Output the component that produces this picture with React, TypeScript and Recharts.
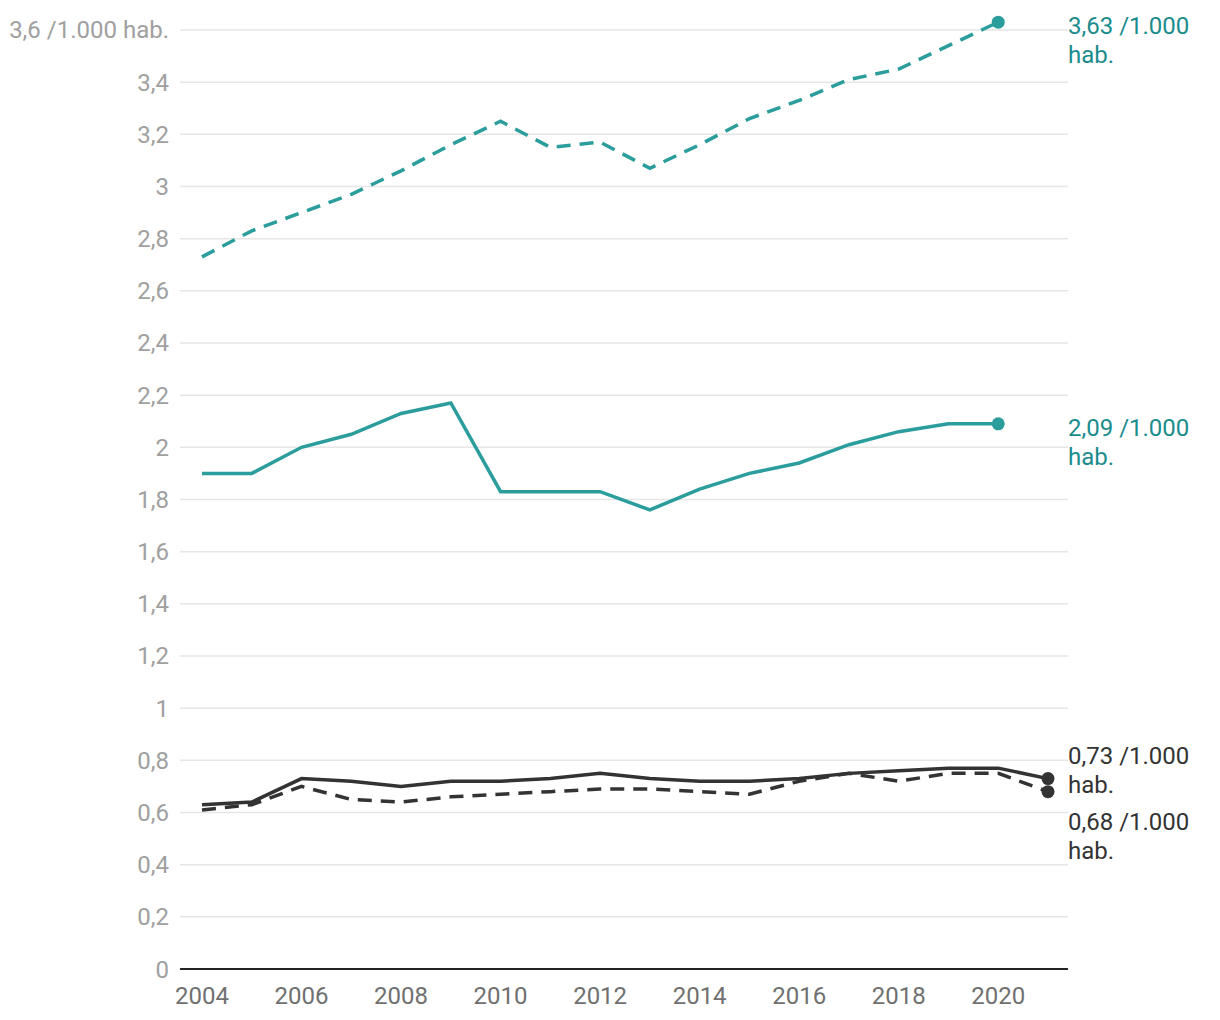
import { LineChart, Line, XAxis, YAxis, CartesianGrid, LabelList } from 'recharts';

const years = [2004, 2005, 2006, 2007, 2008, 2009, 2010, 2011, 2012, 2013, 2014, 2015, 2016, 2017, 2018, 2019, 2020, 2021];
const tealDashed = [2.73, 2.83, 2.9, 2.97, 3.06, 3.16, 3.25, 3.15, 3.17, 3.07, 3.16, 3.26, 3.33, 3.41, 3.45, 3.54, 3.63, null];
const tealSolid = [1.9, 1.9, 2.0, 2.05, 2.13, 2.17, 1.83, 1.83, 1.83, 1.76, 1.84, 1.9, 1.94, 2.01, 2.06, 2.09, 2.09, null];
const darkSolid = [0.63, 0.64, 0.73, 0.72, 0.7, 0.72, 0.72, 0.73, 0.75, 0.73, 0.72, 0.72, 0.73, 0.75, 0.76, 0.77, 0.77, 0.73];
const darkDashed = [0.61, 0.63, 0.7, 0.65, 0.64, 0.66, 0.67, 0.68, 0.69, 0.69, 0.68, 0.67, 0.72, 0.75, 0.72, 0.75, 0.75, 0.68];

const yTicks = [0, 0.2, 0.4, 0.6, 0.8, 1, 1.2, 1.4, 1.6, 1.8, 2, 2.2, 2.4, 2.6, 2.8, 3, 3.2, 3.4, 3.6];
const xTicks = [2004, 2006, 2008, 2010, 2012, 2014, 2016, 2018, 2020];

const TEAL = '#2a9d9c';
const TEAL_TEXT = '#1b8c8c';
const DARK = '#333333';
const WIDTH = 1220;
const HEIGHT = 1020;
// domain goes a bit past the last tick so the 3,63 point is not clipped
const Y_MAX = 3.7;
const MARGIN = { top: 3.9, right: 152, bottom: 11, left: 0 };
const PLOT_RIGHT = WIDTH - MARGIN.right;

const data = years.map((year, i) => ({
  year,
  tealDashed: tealDashed[i],
  tealSolid: tealSolid[i],
  darkSolid: darkSolid[i],
  darkDashed: darkDashed[i],
}));

const fmt = (v: number) => String(Math.round(v * 10) / 10).replace('.', ',');

const lastIndex = (arr: (number | null)[]) => {
  let idx = -1;
  arr.forEach((v, i) => { if (v !== null) idx = i; });
  return idx;
};

const endDot = (arr: (number | null)[], color: string) => (props: any) => {
  const { cx, cy, index } = props;
  if (index !== lastIndex(arr) || cy == null) return <g key={`d-${index}`} />;
  return <circle key={`d-${index}`} cx={cx} cy={cy} r={6.5} fill={color} />;
};

const endLabel = (arr: (number | null)[], color: string, shift: number) => (props: any) => {
  const { y, index, value } = props;
  if (index !== lastIndex(arr) || value == null) return null;
  const base = y + shift + 8.5;
  return (
    <text x={PLOT_RIGHT} y={base} fill={color} fontSize={24} textAnchor="start">
      <tspan x={PLOT_RIGHT} y={base}>{Number(value).toFixed(2).replace('.', ',')} /1.000</tspan>
      <tspan x={PLOT_RIGHT} y={base + 29}>hab.</tspan>
    </text>
  );
};

const YTick = (props: any) => {
  const { x, y, payload } = props;
  const label = payload.value === 3.6 ? '3,6 /1.000 hab.' : fmt(payload.value);
  return (
    <text x={x} y={y} dy={8.5} textAnchor="end" fill="#a0a0a0" fontSize={24}>
      {label}
    </text>
  );
};

export default function App() {
  return (
    <div style={{ position: 'absolute', left: 0, top: 0, background: '#fff' }}>
      <LineChart
        width={WIDTH}
        height={HEIGHT}
        data={data}
        margin={MARGIN}
        style={{ fontFamily: 'Roboto, sans-serif' }}
      >
        <CartesianGrid vertical={false} horizontalValues={yTicks} stroke="#e6e6e6" strokeWidth={1.5} />
        <XAxis
          dataKey="year"
          type="number"
          domain={[2004, 2021]}
          ticks={xTicks}
          padding={{ left: 22, right: 20 }}
          tickLine={false}
          axisLine={{ stroke: '#222', strokeWidth: 2 }}
          tick={{ fill: '#707070', fontSize: 24 }}
          tickMargin={11.5}
          height={40}
        />
        <YAxis
          domain={[0, Y_MAX]}
          ticks={yTicks}
          width={180}
          axisLine={false}
          tickLine={false}
          tickSize={0}
          tickMargin={11}
          tick={<YTick />}
          interval={0}
        />
        <Line
          dataKey="tealDashed"
          stroke={TEAL}
          strokeWidth={3.5}
          strokeDasharray="14 9"
          dot={endDot(tealDashed, TEAL)}
          activeDot={false}
          isAnimationActive={false}
        >
          <LabelList dataKey="tealDashed" content={endLabel(tealDashed, TEAL_TEXT, 3)} />
        </Line>
        <Line
          dataKey="tealSolid"
          stroke={TEAL}
          strokeWidth={3.5}
          dot={endDot(tealSolid, TEAL)}
          activeDot={false}
          isAnimationActive={false}
        >
          <LabelList dataKey="tealSolid" content={endLabel(tealSolid, TEAL_TEXT, 4)} />
        </Line>
        <Line
          dataKey="darkDashed"
          stroke={DARK}
          strokeWidth={3.5}
          strokeDasharray="14 9"
          dot={endDot(darkDashed, DARK)}
          activeDot={false}
          isAnimationActive={false}
        >
          <LabelList dataKey="darkDashed" content={endLabel(darkDashed, DARK, 30)} />
        </Line>
        <Line
          dataKey="darkSolid"
          stroke={DARK}
          strokeWidth={3.5}
          dot={endDot(darkSolid, DARK)}
          activeDot={false}
          isAnimationActive={false}
        >
          <LabelList dataKey="darkSolid" content={endLabel(darkSolid, DARK, -23)} />
        </Line>
      </LineChart>
    </div>
  );
}
